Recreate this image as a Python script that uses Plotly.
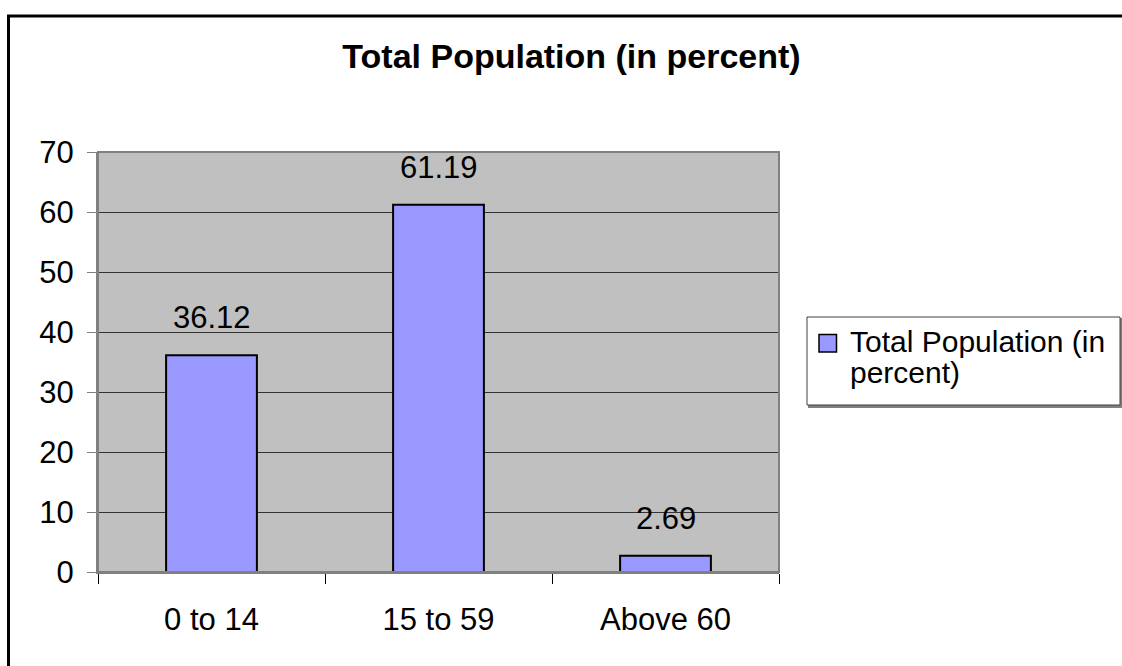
import plotly.graph_objects as go

categories = ["0 to 14", "15 to 59", "Above 60"]
values = [36.12, 61.19, 2.69]
y_ticks = [0, 10, 20, 30, 40, 50, 60, 70]
legend_lines = ["Total Population (in", "percent)"]
title_text = "Total Population (in percent)"

W, H = 1122, 666
L, R, T, B = 98, 343, 152, 94
pw, ph = W - L - R, H - T - B

def px_x(p):
    return (p - L) / pw

def px_y(p):
    return (H - B - p) / ph

FONT = "Liberation Sans, Arial, sans-serif"
BAR_COLOR = "#9999FF"

fig = go.Figure()
fig.add_trace(go.Bar(
    x=categories, y=values, name=" ".join(legend_lines), width=0.40,
    marker=dict(color=BAR_COLOR, line=dict(color="#000000", width=2)),
    showlegend=False,
))

for c, v in zip(categories, values):
    fig.add_annotation(x=c, y=v, text=f"{v:.2f}", showarrow=False,
                       yanchor="bottom", yshift=18,
                       font=dict(family=FONT, size=31, color="#000"))

# outer chart border
fig.add_shape(type="rect", xref="paper", yref="paper",
              x0=px_x(8.5), x1=px_x(1140), y0=px_y(690), y1=px_y(16),
              line=dict(color="#000", width=3), layer="below")
# plot-area top/right border
fig.add_shape(type="rect", xref="paper", yref="paper",
              x0=0, x1=1, y0=0, y1=1,
              line=dict(color="#808080", width=2), layer="above")

# legend box (drawn), with grey shadow
fig.add_shape(type="rect", xref="paper", yref="paper",
              x0=px_x(809), x1=px_x(1122), y0=px_y(407), y1=px_y(319),
              line=dict(color="#808080", width=2), fillcolor="#808080", layer="above")
fig.add_shape(type="rect", xref="paper", yref="paper",
              x0=px_x(807), x1=px_x(1120), y0=px_y(405), y1=px_y(317),
              line=dict(color="#404040", width=1), fillcolor="#FFFFFF", layer="above")
fig.add_shape(type="rect", xref="paper", yref="paper",
              x0=px_x(819), x1=px_x(836.5), y0=px_y(352), y1=px_y(334.5),
              line=dict(color="#000", width=1.5), fillcolor=BAR_COLOR, layer="above")
for i, (line_txt, base) in enumerate(zip(legend_lines, [352, 383])):
    fig.add_annotation(xref="paper", yref="paper", x=px_x(848), y=px_y(base - 10.4),
                       xanchor="left", yanchor="middle", showarrow=False,
                       text=line_txt, align="left",
                       font=dict(family=FONT, size=30, color="#000"))

fig.update_layout(
    width=W, height=H, autosize=False,
    margin=dict(l=L, r=R, t=T, b=B),
    paper_bgcolor="#FFFFFF", plot_bgcolor="#C0C0C0",
    font=dict(family=FONT, size=31, color="#000"),
    title=dict(text=f"<b>{title_text}</b>", x=571.5 / W,
               xanchor="center", xref="container",
               y=1 - 56 / H, yanchor="middle", yref="container",
               font=dict(family=FONT, size=34, color="#000")),
    showlegend=False,
)
fig.update_xaxes(type="category", showgrid=False, showline=True,
                 linecolor="#808080", linewidth=2,
                 ticks="outside", ticklen=10, tickcolor="#000", tickwidth=1,
                 tickson="boundaries", ticklabelstandoff=19,
                 tickfont=dict(family=FONT, size=31, color="#000"))
fig.update_yaxes(range=[0, 70], tickvals=y_ticks, showgrid=True,
                 gridcolor="#333333", gridwidth=1,
                 showline=True, linecolor="#808080", linewidth=2,
                 ticks="outside", ticklen=9, tickcolor="#808080", tickwidth=1,
                 ticklabelstandoff=7, zeroline=False,
                 tickfont=dict(family=FONT, size=31, color="#000"))

fig.write_html("out.html", config={"displayModeBar": False},
               post_script="document.body.style.margin='0px';document.body.style.overflow='hidden';")
